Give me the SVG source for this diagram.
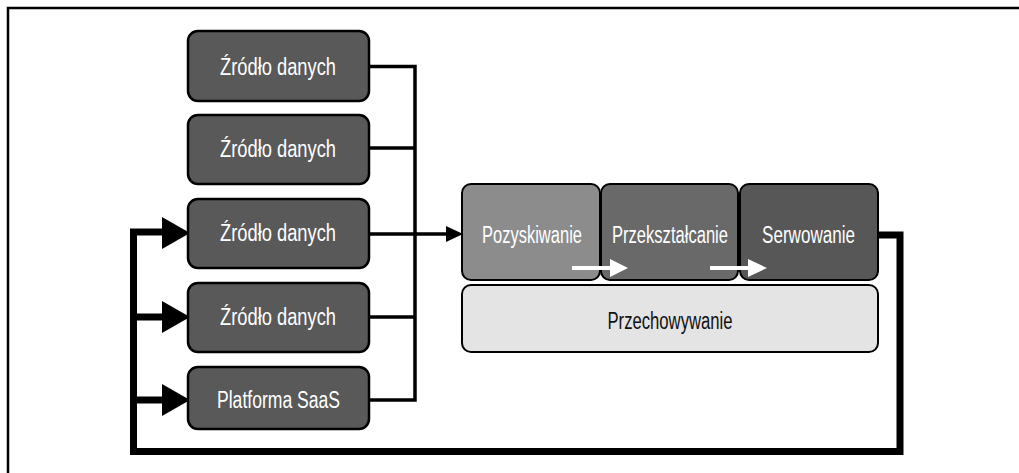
<svg xmlns="http://www.w3.org/2000/svg" width="1019" height="473" viewBox="0 0 1019 473">
<style>
.src{fill:#595959;stroke:#000;stroke-width:2.5}
.stg{stroke:#000;stroke-width:2}
.t{font-family:"Liberation Sans","DejaVu Sans",sans-serif;font-size:23px;text-anchor:middle}
.w{fill:#fff}
.k{fill:#111}
.thin{fill:none;stroke:#000;stroke-width:3.5}
.thick{fill:none;stroke:#000;stroke-width:7}
</style>
<path d="M8,473V8H1019" fill="none" stroke="#000" stroke-width="2.5"/>
<g id="connectors">
<path class="thin" d="M369,66.5H415V400H369M369,148H415M369,317H415M369,234H447"/>
<path d="M446,226L463,234L446,242z" fill="#000"/>
<path class="thick" d="M878,235H900V451.5H133.5V232H165M133.5,317H165M133.5,400H165"/>
<path d="M162,217L190,233L162,249z" fill="#000"/>
<path d="M162,301L190,317L162,333z" fill="#000"/>
<path d="M162,384L190,400L162,416z" fill="#000"/>
</g>
<g id="src1"><rect class="src" x="188" y="31" width="181" height="70" rx="10"/><text class="t w" x="278" y="75" textLength="116" lengthAdjust="spacingAndGlyphs">Źródło danych</text></g>
<g id="src2"><rect class="src" x="188" y="115" width="181" height="69" rx="10"/><text class="t w" x="278" y="157" textLength="116" lengthAdjust="spacingAndGlyphs">Źródło danych</text></g>
<g id="src3"><rect class="src" x="188" y="199" width="181" height="69" rx="10"/><text class="t w" x="278" y="241" textLength="116" lengthAdjust="spacingAndGlyphs">Źródło danych</text></g>
<g id="src4"><rect class="src" x="188" y="283" width="181" height="69" rx="10"/><text class="t w" x="278" y="325" textLength="116" lengthAdjust="spacingAndGlyphs">Źródło danych</text></g>
<g id="saas"><rect class="src" x="188" y="367" width="181" height="62" rx="10"/><text class="t w" x="278.5" y="408" textLength="123" lengthAdjust="spacingAndGlyphs">Platforma SaaS</text></g>
<g id="storage"><rect class="stg" x="462" y="285" width="416" height="67" rx="9" fill="#e4e4e4"/><text class="t k" x="670" y="329" textLength="125" lengthAdjust="spacingAndGlyphs">Przechowywanie</text></g>
<g id="ingest"><rect class="stg" x="462" y="184" width="138" height="96" rx="9" fill="#8c8c8c"/><text class="t w" x="532" y="243" textLength="100" lengthAdjust="spacingAndGlyphs">Pozyskiwanie</text></g>
<g id="transform"><rect class="stg" x="601" y="184" width="137" height="96" rx="9" fill="#696969"/><text class="t w" x="670" y="243" textLength="116" lengthAdjust="spacingAndGlyphs">Przekształcanie</text></g>
<g id="serve"><rect class="stg" x="740" y="184" width="138" height="96" rx="9" fill="#575757"/><text class="t w" x="808.5" y="243" textLength="93" lengthAdjust="spacingAndGlyphs">Serwowanie</text></g>
<g id="flow">
<path d="M572,268H612" stroke="#fff" stroke-width="4"/>
<path d="M610,259L628,268L610,277z" fill="#fff"/>
<path d="M710,268H750" stroke="#fff" stroke-width="4"/>
<path d="M748,259L767,268L748,277z" fill="#fff"/>
</g>
</svg>
